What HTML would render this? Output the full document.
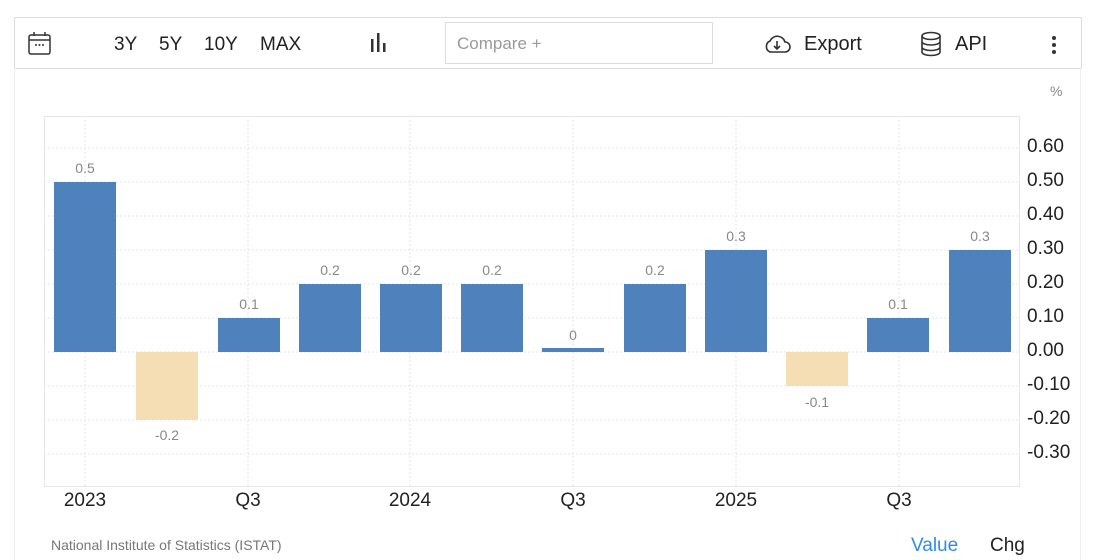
<!DOCTYPE html>
<html><head><style>
body{margin:0;width:1095px;height:560px;background:#fff;font-family:"Liberation Sans",sans-serif;overflow:hidden;position:relative}
.a{position:absolute}
</style></head><body>
<div class="a" style="left:14px;top:17px;width:1066px;height:50px;border:1px solid #ddd"></div>
<div class="a" style="left:14px;top:68px;width:1px;height:492px;background:#eee"></div>
<div class="a" style="left:1080px;top:68px;width:1px;height:492px;background:#eee"></div>
<svg class="a" style="left:28px;top:31px" width="24" height="26" viewBox="0 0 24 26"><rect x="1" y="4" width="21" height="19" rx="2" fill="none" stroke="#333" stroke-width="1.5"/><line x1="1" y1="9" x2="22" y2="9" stroke="#333" stroke-width="1.5"/><line x1="6" y1="1" x2="6" y2="5" stroke="#333" stroke-width="1.5"/><line x1="17" y1="1" x2="17" y2="5" stroke="#333" stroke-width="1.5"/><circle cx="8" cy="14" r="1" fill="#333"/><circle cx="11.5" cy="14" r="1" fill="#333"/><circle cx="15" cy="14" r="1" fill="#333"/></svg>
<div class="a" style="left:114px;top:34px;font-size:19px;color:#222;word-spacing:0">3Y</div>
<div class="a" style="left:159px;top:34px;font-size:19px;color:#222">5Y</div>
<div class="a" style="left:204px;top:34px;font-size:19px;color:#222">10Y</div>
<div class="a" style="left:260px;top:34px;font-size:19px;color:#222">MAX</div>
<svg class="a" style="left:369px;top:33px" width="20" height="20"><rect x="2" y="6" width="2.5" height="13" fill="#333"/><rect x="8" y="0" width="2.5" height="19" fill="#333"/><rect x="14" y="10" width="2.5" height="9" fill="#333"/></svg>
<div class="a" style="left:445px;top:22px;width:266px;height:40px;border:1px solid #ddd"></div>
<div class="a" style="left:457px;top:34px;font-size:17px;color:#999">Compare +</div>
<svg class="a" style="left:762px;top:33px" width="30" height="22"><path d="M8 19 H23 a5 5 0 0 0 0-10 a8 8 0 0 0-15-1 a6 6 0 0 0 0 11z" fill="none" stroke="#333" stroke-width="1.6"/><path d="M15 8v8m-3-3l3 3 3-3" fill="none" stroke="#333" stroke-width="1.6"/></svg>
<div class="a" style="left:804px;top:33px;font-size:20px;color:#222">Export</div>
<svg class="a" style="left:920px;top:31px" width="22" height="26"><ellipse cx="11" cy="5" rx="9" ry="3.5" fill="none" stroke="#333" stroke-width="1.6"/><path d="M2 5v16c0 2 4 3.5 9 3.5s9-1.5 9-3.5V5M2 10.5c0 2 4 3.5 9 3.5s9-1.5 9-3.5M2 16c0 2 4 3.5 9 3.5s9-1.5 9-3.5" fill="none" stroke="#333" stroke-width="1.6"/></svg>
<div class="a" style="left:955px;top:33px;font-size:20px;color:#222">API</div>
<svg class="a" style="left:1051px;top:35px" width="6" height="20"><circle cx="3" cy="3" r="2" fill="#333"/><circle cx="3" cy="10" r="2" fill="#333"/><circle cx="3" cy="17" r="2" fill="#333"/></svg>
<div class="a" style="left:1050px;top:83px;font-size:14px;color:#888">%</div>

<svg class="a" style="left:0;top:0" width="1095" height="560">
<g stroke="#e6e6e6" stroke-dasharray="2,2" stroke-width="1">
<line x1="44" y1="148" x2="1020" y2="148"/><line x1="44" y1="182" x2="1020" y2="182"/><line x1="44" y1="216" x2="1020" y2="216"/><line x1="44" y1="250" x2="1020" y2="250"/><line x1="44" y1="284" x2="1020" y2="284"/><line x1="44" y1="318" x2="1020" y2="318"/><line x1="44" y1="352" x2="1020" y2="352"/><line x1="44" y1="386" x2="1020" y2="386"/><line x1="44" y1="420" x2="1020" y2="420"/><line x1="44" y1="454" x2="1020" y2="454"/>
<line x1="85" y1="116" x2="85" y2="486"/><line x1="248" y1="116" x2="248" y2="486"/><line x1="410" y1="116" x2="410" y2="486"/><line x1="573" y1="116" x2="573" y2="486"/><line x1="736" y1="116" x2="736" y2="486"/><line x1="899" y1="116" x2="899" y2="486"/>
</g>
<rect x="44.5" y="116.5" width="975" height="370" fill="none" stroke="#e6e6e6"/>
<g fill="#4f81bd">
<rect x="54" y="182" width="62" height="170"/>
<rect x="218" y="318" width="62" height="34"/>
<rect x="299" y="284" width="62" height="68"/>
<rect x="380" y="284" width="62" height="68"/>
<rect x="461" y="284" width="62" height="68"/>
<rect x="542" y="348" width="62" height="4"/>
<rect x="624" y="284" width="62" height="68"/>
<rect x="705" y="250" width="62" height="102"/>
<rect x="867" y="318" width="62" height="34"/>
<rect x="949" y="250" width="62" height="102"/>
</g>
<g fill="#f5deb3">
<rect x="136" y="352" width="62" height="68"/>
<rect x="786" y="352" width="62" height="34"/>
</g>
<g font-size="14" fill="#888" text-anchor="middle">
<text x="85" y="173">0.5</text><text x="167" y="440">-0.2</text><text x="249" y="309">0.1</text><text x="330" y="275">0.2</text><text x="411" y="275">0.2</text><text x="492" y="275">0.2</text><text x="573" y="340">0</text><text x="655" y="275">0.2</text><text x="736" y="241">0.3</text><text x="817" y="407">-0.1</text><text x="898" y="309">0.1</text><text x="980" y="241">0.3</text>
</g>
<g font-size="19" fill="#222">
<text x="1027" y="152">0.60</text><text x="1027" y="186">0.50</text><text x="1027" y="220">0.40</text><text x="1027" y="254">0.30</text><text x="1027" y="288">0.20</text><text x="1027" y="322">0.10</text><text x="1027" y="356">0.00</text><text x="1027" y="390">-0.10</text><text x="1027" y="424">-0.20</text><text x="1027" y="458">-0.30</text>
</g>
<g font-size="19" fill="#222" text-anchor="middle">
<text x="85" y="506">2023</text><text x="248" y="506">Q3</text><text x="410" y="506">2024</text><text x="573" y="506">Q3</text><text x="736" y="506">2025</text><text x="899" y="506">Q3</text>
</g>
</svg>
<div class="a" style="left:51px;top:537px;font-size:14px;color:#777">National Institute of Statistics (ISTAT)</div>
<div class="a" style="left:911px;top:535px;font-size:19px;color:#2f8ce8">Value</div>
<div class="a" style="left:990px;top:535px;font-size:19px;color:#222">Chg</div>
</body></html>
